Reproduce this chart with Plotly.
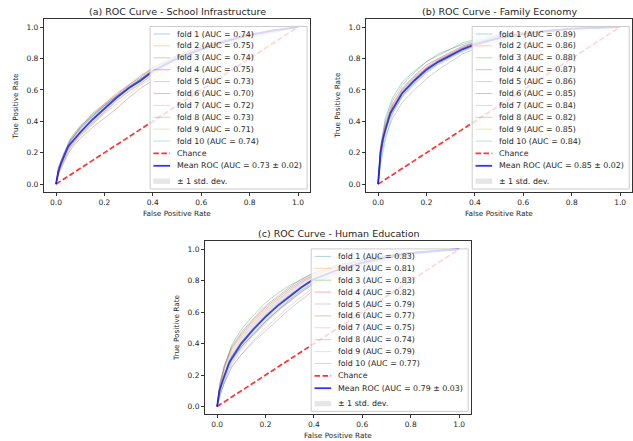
import plotly.graph_objects as go

W, H = 633, 441

TITLES = ["(a) ROC Curve - School Infrastructure",
          "(b) ROC Curve - Family Economy",
          "(c) ROC Curve - Human Education"]
TICKS = [0.0, 0.2, 0.4, 0.6, 0.8, 1.0]

FOLD_FPR = [0, 0.01, 0.03, 0.06, 0.1, 0.15, 0.2, 0.25, 0.3, 0.35, 0.4, 0.5, 0.65, 0.8, 1.0]
MEAN_FPR = [0, 0.01, 0.02, 0.05, 0.1, 0.15, 0.2, 0.25, 0.3, 0.35, 0.4, 0.5, 0.6, 0.7, 0.8, 0.9, 1.0]

# ---- panel (a) School Infrastructure ----
auc_a = [0.74, 0.75, 0.74, 0.75, 0.73, 0.70, 0.72, 0.73, 0.71, 0.74]
folds_a = [
    [0, .10, .19, .28, .35, .43, .50, .56, .62, .67, .73, .81, .89, .95, 1],
    [0, .07, .17, .29, .37, .44, .51, .58, .63, .68, .74, .82, .90, .96, 1],
    [0, .09, .15, .27, .36, .44, .50, .56, .61, .67, .72, .81, .89, .95, 1],
    [0, .11, .18, .28, .36, .45, .51, .57, .63, .69, .74, .82, .90, .95, 1],
    [0, .08, .16, .25, .33, .41, .48, .55, .61, .66, .71, .80, .88, .95, 1],
    [0, .06, .13, .22, .29, .36, .42, .48, .55, .61, .66, .76, .86, .93, 1],
    [0, .09, .14, .24, .32, .39, .46, .53, .59, .64, .70, .79, .88, .94, 1],
    [0, .10, .16, .26, .33, .41, .49, .55, .61, .66, .71, .80, .88, .95, 1],
    [0, .07, .14, .23, .31, .38, .45, .51, .57, .63, .68, .77, .87, .94, 1],
    [0, .08, .18, .29, .37, .43, .50, .56, .62, .67, .72, .81, .89, .95, 1],
]
mean_a = [0, .08, .13, .24, .33, .41, .48, .55, .61, .66, .72, .80, .86, .91, .95, .98, 1.0]
std_a = [0, .02, .025, .03, .03, .03, .03, .025, .025, .025, .025, .02, .015, .01, .01, .005, 0]
mean_auc_a, std_auc_a = 0.73, 0.02

# ---- panel (b) Family Economy ----
auc_b = [0.89, 0.86, 0.88, 0.87, 0.86, 0.85, 0.84, 0.82, 0.85, 0.84]
folds_b = [
    [0, .24, .42, .55, .65, .72, .78, .83, .86, .89, .91, .95, .975, .99, 1],
    [0, .20, .37, .50, .60, .68, .74, .79, .83, .87, .90, .94, .97, .99, 1],
    [0, .22, .40, .53, .63, .71, .78, .82, .86, .90, .92, .95, .975, .99, 1],
    [0, .23, .38, .51, .61, .69, .76, .80, .84, .88, .90, .94, .97, .99, 1],
    [0, .19, .36, .49, .59, .67, .74, .79, .83, .87, .90, .94, .97, .99, 1],
    [0, .18, .35, .48, .58, .66, .73, .78, .82, .86, .89, .93, .965, .99, 1],
    [0, .17, .34, .46, .56, .64, .71, .77, .81, .85, .88, .93, .965, .985, 1],
    [0, .15, .30, .42, .52, .60, .67, .73, .78, .83, .86, .91, .955, .985, 1],
    [0, .21, .36, .48, .58, .66, .72, .78, .82, .86, .89, .93, .965, .99, 1],
    [0, .12, .28, .45, .56, .65, .72, .77, .81, .85, .88, .93, .965, .985, 1],
]
mean_b = [0, .20, .29, .45, .58, .66, .73, .78, .82, .86, .89, .93, .955, .975, .99, .996, 1.0]
std_b = [0, .04, .04, .035, .03, .03, .025, .025, .02, .02, .02, .015, .01, .01, .005, .003, 0]
mean_auc_b, std_auc_b = 0.85, 0.02

# ---- panel (c) Human Education ----
auc_c = [0.83, 0.81, 0.83, 0.82, 0.79, 0.77, 0.75, 0.74, 0.79, 0.77]
folds_c = [
    [0, .13, .26, .38, .47, .56, .64, .70, .76, .81, .85, .90, .95, .98, 1],
    [0, .12, .24, .36, .45, .54, .62, .68, .74, .79, .83, .89, .945, .98, 1],
    [0, .11, .25, .39, .49, .58, .66, .72, .77, .81, .85, .90, .95, .98, 1],
    [0, .14, .26, .37, .46, .55, .63, .69, .75, .80, .84, .89, .945, .98, 1],
    [0, .09, .20, .32, .41, .50, .58, .65, .71, .76, .81, .87, .935, .975, 1],
    [0, .10, .19, .30, .38, .46, .54, .61, .67, .73, .78, .85, .925, .97, 1],
    [0, .06, .15, .25, .33, .42, .50, .57, .64, .70, .76, .84, .92, .97, 1],
    [0, .07, .15, .25, .33, .41, .48, .55, .62, .68, .74, .83, .91, .965, 1],
    [0, .10, .21, .32, .41, .49, .57, .64, .70, .76, .81, .87, .935, .975, 1],
    [0, .05, .16, .29, .38, .46, .54, .61, .68, .74, .79, .86, .93, .97, 1],
]
mean_c = [0, .10, .15, .28, .40, .49, .57, .64, .70, .76, .81, .87, .915, .95, .975, .99, 1.0]
std_c = [0, .03, .04, .045, .045, .045, .045, .04, .04, .035, .03, .025, .02, .015, .01, .005, 0]
mean_auc_c, std_auc_c = 0.79, 0.03

FOLD_COLORS = ["31,119,180", "255,127,14", "44,160,44", "214,39,40", "148,103,189",
               "140,86,75", "227,119,194", "127,127,127", "188,189,34", "23,190,207"]

# panel geometry in pixels: left, right, top, bottom of the axes box
BOXES = [(43.9, 310.1, 19.2, 192.0), (366.0, 632.2, 19.2, 192.0), (205.0, 471.2, 241.4, 414.4)]

PANELS = [(folds_a, auc_a, mean_a, std_a, mean_auc_a, std_auc_a),
          (folds_b, auc_b, mean_b, std_b, mean_auc_b, std_auc_b),
          (folds_c, auc_c, mean_c, std_c, mean_auc_c, std_auc_c)]

TXT = "#262626"
FONT = "DejaVu Sans"
FS = 7.5       # tick labels
AFS = 7.3      # axis labels
LFS = 7.9      # legend entries
TFS = 9.5      # titles


def px(x):
    return x / W


def py(y):
    return 1 - y / H


fig = go.Figure()
shapes = []
annotations = []

for p, (folds, aucs, mean, std, mauc, sauc) in enumerate(PANELS):
    sfx = "" if p == 0 else str(p + 1)
    xa, ya = "x" + sfx, "y" + sfx
    for i, tpr in enumerate(folds):
        fig.add_trace(go.Scatter(x=FOLD_FPR, y=tpr, mode="lines", xaxis=xa, yaxis=ya,
                                 line=dict(color=f"rgba({FOLD_COLORS[i]},0.35)", width=1),
                                 showlegend=False, hoverinfo="skip"))
    fig.add_trace(go.Scatter(x=[0, 1], y=[0, 1], mode="lines", xaxis=xa, yaxis=ya,
                             line=dict(color="rgba(255,0,0,0.8)", width=1.7, dash="5.5px,2.5px"),
                             showlegend=False, hoverinfo="skip"))
    fig.add_trace(go.Scatter(x=MEAN_FPR, y=mean, mode="lines", xaxis=xa, yaxis=ya,
                             line=dict(color="rgba(0,0,255,0.8)", width=1.8),
                             showlegend=False, hoverinfo="skip"))
    upper = [min(m + s, 1) for m, s in zip(mean, std)]
    lower = [max(m - s, 0) for m, s in zip(mean, std)]
    fig.add_trace(go.Scatter(x=MEAN_FPR + MEAN_FPR[::-1], y=upper + lower[::-1],
                             mode="lines", fill="toself", xaxis=xa, yaxis=ya,
                             fillcolor="rgba(128,128,128,0.2)", line=dict(width=0),
                             showlegend=False, hoverinfo="skip"))

    L, R, T, B = BOXES[p]
    axis_common = dict(range=[-0.05, 1.05], tickvals=TICKS, ticktext=[f"{t:.1f}" for t in TICKS],
                       showgrid=False, zeroline=False, showline=True, mirror=True,
                       linecolor="#333333", linewidth=1, ticks="outside", ticklen=3,
                       tickcolor="#333333", tickfont=dict(family=FONT, size=FS, color=TXT))
    fig.update_layout(**{
        "xaxis" + sfx: dict(domain=[px(L), px(R)], anchor=ya, **axis_common),
        "yaxis" + sfx: dict(domain=[py(B), py(T)], anchor=xa, **axis_common),
    })

    cx, cy = (L + R) / 2, (T + B) / 2
    annotations.append(dict(x=px(cx), y=py(T - 7.5), xref="paper", yref="paper", text=TITLES[p],
                            showarrow=False, xanchor="center", yanchor="middle",
                            font=dict(family=FONT, size=TFS, color=TXT)))
    annotations.append(dict(x=px(cx), y=py(B + 21), xref="paper", yref="paper",
                            text="False Positive Rate", showarrow=False,
                            xanchor="center", yanchor="middle",
                            font=dict(family=FONT, size=AFS, color=TXT)))
    annotations.append(dict(x=px(L - 28), y=py(cy), xref="paper", yref="paper",
                            text="True Positive Rate", showarrow=False, textangle=-90,
                            xanchor="center", yanchor="middle",
                            font=dict(family=FONT, size=AFS, color=TXT)))

    # legend box (drawn manually for matplotlib-like compact spacing)
    bl, br = R - 3 - 157, R - 3
    bt, bb = B - 165.5, B - 3
    shapes.append(dict(type="rect", xref="paper", yref="paper", layer="above",
                       x0=px(bl), x1=px(br), y0=py(bb), y1=py(bt),
                       fillcolor="rgba(255,255,255,0.8)", line=dict(color="#cccccc", width=1)))
    labels = [f"fold {i + 1} (AUC = {a:.2f})" for i, a in enumerate(aucs)]
    labels += ["Chance", f"Mean ROC (AUC = {mauc:.2f} \u00b1 {sauc:.2f})", "\u00b1 1 std. dev."]
    rows = [B - (50.9 + (9 - i) * 11.9) for i in range(10)] + [B - 38.6, B - 26.2, B - 10.8]
    for k, (lab, ry) in enumerate(zip(labels, rows)):
        if k < 10:
            shapes.append(dict(type="line", xref="paper", yref="paper", layer="above",
                               x0=px(bl + 3.3), x1=px(bl + 20), y0=py(ry), y1=py(ry),
                               line=dict(color=f"rgba({FOLD_COLORS[k]},0.35)", width=1)))
        elif k == 10:
            shapes.append(dict(type="line", xref="paper", yref="paper", layer="above",
                               x0=px(bl + 3.3), x1=px(bl + 20), y0=py(ry), y1=py(ry),
                               line=dict(color="rgba(255,0,0,0.8)", width=1.7, dash="5.5px,2.5px")))
        elif k == 11:
            shapes.append(dict(type="line", xref="paper", yref="paper", layer="above",
                               x0=px(bl + 3.3), x1=px(bl + 20), y0=py(ry), y1=py(ry),
                               line=dict(color="rgba(0,0,255,0.8)", width=1.8)))
        else:
            shapes.append(dict(type="rect", xref="paper", yref="paper", layer="above",
                               x0=px(bl + 3.3), x1=px(bl + 20), y0=py(ry + 2.7), y1=py(ry - 2.7),
                               fillcolor="rgba(128,128,128,0.2)", line=dict(width=0)))
        annotations.append(dict(x=px(bl + 24.7), y=py(ry), xref="paper", yref="paper", text=lab,
                                showarrow=False, xanchor="left", yanchor="middle",
                                font=dict(family=FONT, size=LFS, color=TXT)))

fig.update_layout(width=W, height=H, autosize=False, margin=dict(l=0, r=0, t=0, b=0),
                  paper_bgcolor="white", plot_bgcolor="white", showlegend=False,
                  shapes=shapes, annotations=annotations,
                  font=dict(family=FONT, size=FS, color=TXT))

fig.write_html("out.html", config={"displayModeBar": False, "staticPlot": True},
               post_script="document.body.style.margin='0';document.body.style.padding='0';"
                           "document.documentElement.style.overflow='hidden';")
